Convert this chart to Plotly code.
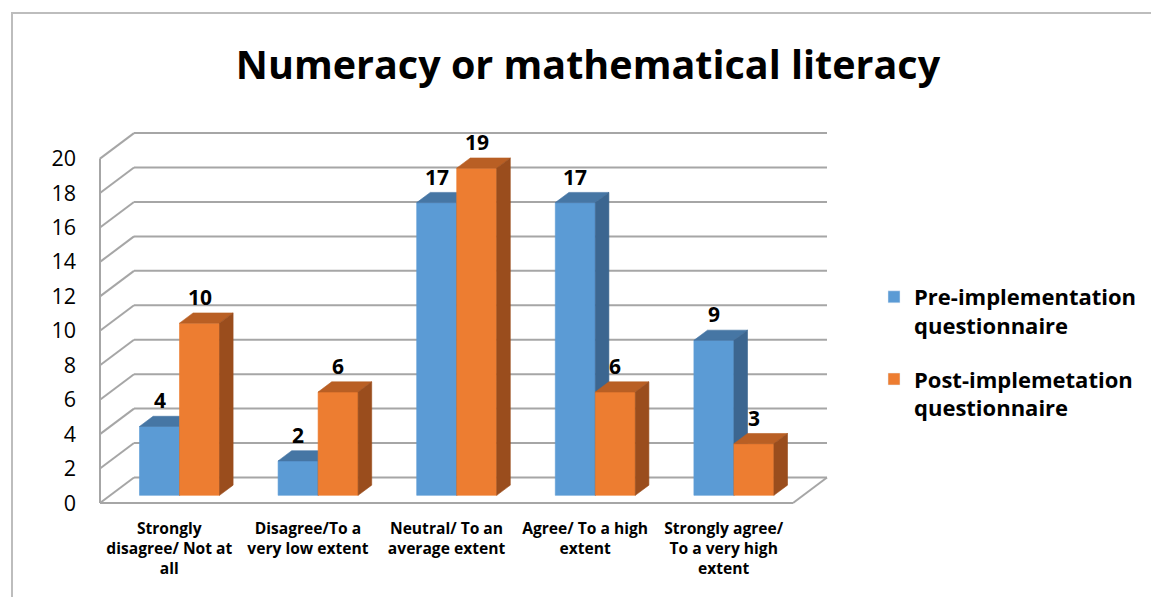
import plotly.graph_objects as go

# ---- data -------------------------------------------------------------
categories = [
    "Strongly<br>disagree/ Not at<br>all",
    "Disagree/To a<br>very low extent",
    "Neutral/ To an<br>average extent",
    "Agree/ To a high<br>extent",
    "Strongly agree/<br>To a very high<br>extent",
]
pre_values = [4, 2, 17, 17, 9]
post_values = [10, 6, 19, 6, 3]
series_names = ["Pre-implementation<br>questionnaire", "Post-implemetation<br>questionnaire"]
y_tick_values = [0, 2, 4, 6, 8, 10, 12, 14, 16, 18, 20]
title_text = "Numeracy or mathematical literacy"

# ---- colours ----------------------------------------------------------
FRONT = ["#5B9BD5", "#ED7D31"]
TOP = ["#4676A4", "#B95F24"]
SIDE = ["#3C6690", "#9A4D1D"]
GRID = "#A6A6A6"
BORDER = "#BDBDBD"
FONT = "Open Sans"

# ---- layout geometry ---------------------------------------------------
W, H = 1151, 597
L_M, R_M, T_M, B_M = 96, 318, 130, 90
PX_X = 138.6          # pixels per category unit
PX_Y = 17.22          # pixels per value unit
ORIGIN_PX = (100, 503)  # pixel position of (0, 0) on the front edge

plot_w = W - L_M - R_M
plot_h = H - T_M - B_M
x_min = -(ORIGIN_PX[0] - L_M) / PX_X
x_max = x_min + plot_w / PX_X
y_min = -((H - B_M) - ORIGIN_PX[1]) / PX_Y
y_max = y_min + plot_h / PX_Y

# perspective offset of the full box depth, in axis units
DX = 34 / PX_X
DY = 25.5 / PX_Y
BAR_D0, BAR_D1 = 0.3, 0.7   # bars occupy the middle of the depth
BAR_W = 40 / PX_X
N = len(categories)
Y_TOP = max(y_tick_values)

fig = go.Figure()

# ---- walls and floor ------------------------------------------------------
shapes = []
def seg(x0, y0, x1, y1, color=GRID, width=2):
    shapes.append(dict(type="line", xref="x", yref="y", x0=x0, y0=y0, x1=x1, y1=y1,
                       line=dict(color=color, width=width), layer="below"))

seg(0, 0, 0, Y_TOP)                  # left wall front edge
for v in y_tick_values:
    seg(0, v, DX, v + DY)            # left wall grid
    seg(DX, v + DY, N + DX, v + DY)  # back wall grid
seg(0, 0, N, 0)                      # floor front edge
seg(N, 0, N + DX, DY)                # floor right edge

# chart frame
def px_to_paper(px, py):
    return (px - L_M) / plot_w, ((H - B_M) - py) / plot_h

fx0, fy0 = px_to_paper(12, 13)
fx1, fy1 = px_to_paper(W + 20, H + 20)
shapes.append(dict(type="rect", xref="paper", yref="paper", x0=fx0, y0=fy1, x1=fx1, y1=fy0,
                   line=dict(color=BORDER, width=2), fillcolor="rgba(0,0,0,0)", layer="below"))

# ---- 3-D columns ----------------------------------------------------------
ddx = (BAR_D1 - BAR_D0) * DX
ddy = (BAR_D1 - BAR_D0) * DY
base = BAR_D0 * DY
annotations = []

for s, values in enumerate([pre_values, post_values]):
    faces = {"front": ([], []), "top": ([], []), "side": ([], [])}
    for i, v in enumerate(values):
        c = i + 0.5 + BAR_D0 * DX
        xl = c - BAR_W if s == 0 else c
        xr = xl + BAR_W
        top = v + base
        polys = {
            "front": ([xl, xr, xr, xl, xl], [base, base, top, top, base]),
            "top": ([xl, xr, xr + ddx, xl + ddx, xl], [top, top, top + ddy, top + ddy, top]),
            "side": ([xr, xr + ddx, xr + ddx, xr, xr], [base, base + ddy, top + ddy, top, base]),
        }
        for k, (px_, py_) in polys.items():
            faces[k][0].extend(px_ + [None])
            faces[k][1].extend(py_ + [None])
        annotations.append(dict(x=(xl + xr) / 2, y=top, xref="x", yref="y", yshift=26,
                                text=f"<b>{v}</b>", showarrow=False, yanchor="middle",
                                font=dict(family=FONT, size=21, color="black")))
    for k, col in (("front", FRONT[s]), ("top", TOP[s]), ("side", SIDE[s])):
        fig.add_trace(go.Scatter(x=faces[k][0], y=faces[k][1], mode="lines", fill="toself",
                                 fillcolor=col, line=dict(color=col, width=0.6),
                                 hoverinfo="skip", showlegend=False))

# legend entries
for s in range(2):
    fig.add_trace(go.Bar(x=[None], y=[None],
                         name=f"<b>{series_names[s].replace('<br>', '</b><br><b>')}</b>",
                         marker_color=FRONT[s], showlegend=True, legendgroup=f"g{s}"))

lx, ly = px_to_paper(874, 276)
fig.update_layout(
    width=W, height=H,
    margin=dict(l=L_M, r=R_M, t=T_M, b=B_M, autoexpand=False),
    paper_bgcolor="white", plot_bgcolor="white",
    shapes=shapes, annotations=annotations,
    title=dict(text=f"<b>{title_text}</b>", x=588 / W, xref="container", xanchor="center",
               y=1 - 65 / H, yref="container", yanchor="middle",
               font=dict(family=FONT, size=39.5, color="black")),
    xaxis=dict(range=[x_min, x_max], showgrid=False, zeroline=False, showline=False,
               tickvals=[i + 0.5 for i in range(N)],
               ticktext=[f"<b>{t.replace('<br>', '</b><br><b>')}</b>" for t in categories],
               tickfont=dict(family=FONT, size=15.6, color="black"), ticks="",
               ticklabelstandoff=10),
    yaxis=dict(range=[y_min, y_max], showgrid=False, zeroline=False, showline=False,
               tickvals=y_tick_values, ticks="",
               tickfont=dict(family=FONT, size=21.5, color="black"), ticklabelstandoff=19),
    legend=dict(x=lx, y=ly, xanchor="left", yanchor="top", valign="top",
                font=dict(family=FONT, size=22, color="black"), tracegroupgap=22,
                bgcolor="rgba(0,0,0,0)"),
    showlegend=True,
)

fig.write_html("out.html")
